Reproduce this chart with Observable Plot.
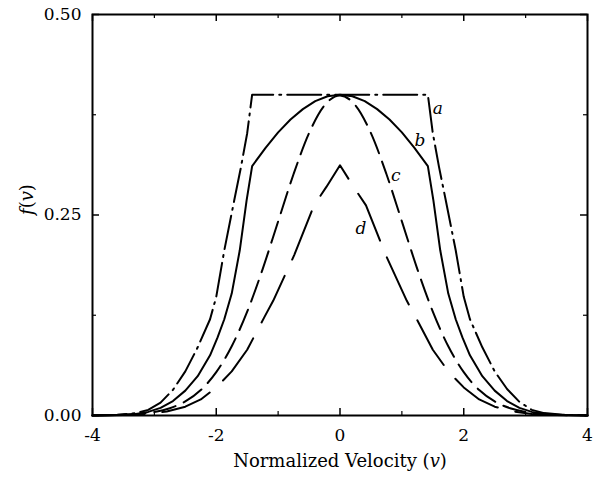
<!DOCTYPE html>
<html><head><meta charset="utf-8">
<script src="https://cdn.jsdelivr.net/npm/d3@7"></script>
<script src="https://cdn.jsdelivr.net/npm/@observablehq/plot@0.6"></script>
<style>
html,body{margin:0;padding:0;background:#fff}
#chart svg, #chart svg text { font-family: "DejaVu Serif", serif !important; }
</style>
</head><body><div id="chart"></div>
<script>
// curve a (dash-dot)
const aV = [-4.0,-3.6,-3.3,-3.1,-2.9,-2.7,-2.5,-2.3,-2.1,-2.0,-1.87,-1.71,-1.60,-1.50,-1.42,1.42,1.50,1.60,1.71,1.87,2.0,2.1,2.3,2.5,2.7,2.9,3.1,3.3,3.6,4.0];
const aF = [0.0002,0.001,0.003,0.007,0.016,0.032,0.055,0.085,0.12,0.148,0.206,0.268,0.31,0.352,0.400,0.400,0.352,0.31,0.268,0.206,0.148,0.12,0.085,0.055,0.033,0.017,0.007,0.003,0.001,0.0002];
// curve b (solid)
const bV = [-4.0,-3.6,-3.3,-3.1,-2.9,-2.7,-2.5,-2.3,-2.1,-1.98,-1.87,-1.75,-1.62,-1.51,-1.42,-1.2,-1.0,-0.8,-0.6,-0.4,-0.2,0,0.2,0.4,0.6,0.8,1.0,1.2,1.42,1.51,1.62,1.75,1.87,1.98,2.1,2.3,2.5,2.7,2.9,3.1,3.3,3.6,4.0];
const bF = [0.0001,0.0007,0.002,0.0045,0.0095,0.018,0.031,0.049,0.075,0.097,0.12,0.152,0.206,0.268,0.311,0.334,0.353,0.369,0.382,0.392,0.398,0.400,0.398,0.392,0.382,0.369,0.353,0.334,0.311,0.268,0.206,0.152,0.12,0.097,0.075,0.049,0.031,0.018,0.0095,0.0045,0.002,0.0007,0.0001];
// curve c (short dash)
const cV = [-4.0,-3.5,-3.25,-3.0,-2.75,-2.5,-2.25,-2.0,-1.75,-1.5,-1.25,-1.0,-0.75,-0.5,-0.25,0,0.25,0.5,0.75,1.0,1.25,1.5,1.75,2.0,2.25,2.5,2.75,3.0,3.25,3.5,4.0];
const cF = [0.0001,0.0009,0.002,0.0044,0.0091,0.0175,0.0317,0.054,0.0863,0.1295,0.1826,0.242,0.3011,0.3521,0.3867,0.3989,0.3867,0.3521,0.3011,0.242,0.1826,0.1295,0.0863,0.054,0.0317,0.0175,0.0091,0.0044,0.002,0.0009,0.0001];
// curve d (long dash)
const dV = [-4.0,-3.5,-3.1,-2.8,-2.5,-2.25,-2.0,-1.75,-1.5,-1.22,-1.08,-0.74,-0.42,-0.22,0,0.22,0.42,0.74,1.08,1.22,1.5,1.75,2.0,2.25,2.5,2.8,3.1,3.5,4.0];
const dF = [0.0001,0.0005,0.002,0.005,0.011,0.02,0.035,0.055,0.082,0.123,0.143,0.2,0.262,0.285,0.312,0.285,0.262,0.2,0.143,0.123,0.082,0.055,0.035,0.02,0.011,0.005,0.002,0.0005,0.0001];

const curveNames = ["a","b","c","d"];
const labelV = [1.58, 1.29, 0.90, 0.34];
const labelF = [0.383, 0.343, 0.299, 0.233];

const xTicks = [-4,-2,0,2,4];
const xMinor = [-3,-1,1,3];
const yTicks = [0, 0.25, 0.5];
const yMinor = [0.125, 0.375];
const xTitle = "Normalized Velocity (v)";
const yTitle = "f(v)";

const toRows = (V, F) => V.map((v, i) => ({v, f: F[i]}));
const labels = curveNames.map((n, i) => ({name: n, v: labelV[i], f: labelF[i]}));

const W = 602, H = 483, mL = 92, mR = 15, mT = 14, mB = 68;
const innerW = W - mL - mR, innerH = H - mT - mB;
const font = "DejaVu Serif";
const lineStyle = {x: "v", y: "f", stroke: "#000", strokeWidth: 2, strokeLinejoin: "round"};

const chart = Plot.plot({
  width: W, height: H,
  marginLeft: mL, marginRight: mR, marginTop: mT, marginBottom: mB,
  x: {domain: [-4, 4], axis: null},
  y: {domain: [0, 0.5], axis: null},
  style: {fontFamily: font, fontSize: "16px", color: "#000", background: "#fff"},
  marks: [
    Plot.lineY(toRows(aV, aF), {...lineStyle, strokeDasharray: "34,6,2,6", curve: "linear"}),
    Plot.lineY(toRows(bV, bF), {...lineStyle, curve: "linear"}),
    Plot.lineY(toRows(cV, cF), {...lineStyle, strokeDasharray: "22,9", curve: "monotone-x"}),
    Plot.lineY(toRows(dV, dF), {...lineStyle, strokeDasharray: "52,18", curve: "linear"}),
    Plot.text(labels, {x: "v", y: "f", text: "name", fontStyle: "italic", fontSize: 17, fill: "#000"}),
    // inward ticks
    Plot.ruleX(xTicks, {x: d => d, insetTop: innerH - 7, strokeWidth: 1.5}),
    Plot.ruleX(xTicks, {x: d => d, insetBottom: innerH - 7, strokeWidth: 1.5}),
    Plot.ruleX(xMinor, {x: d => d, insetTop: innerH - 4, strokeWidth: 1.2}),
    Plot.ruleX(xMinor, {x: d => d, insetBottom: innerH - 4, strokeWidth: 1.2}),
    Plot.ruleY(yTicks, {y: d => d, insetRight: innerW - 7, strokeWidth: 1.5}),
    Plot.ruleY(yTicks, {y: d => d, insetLeft: innerW - 7, strokeWidth: 1.5}),
    Plot.ruleY(yMinor, {y: d => d, insetRight: innerW - 4, strokeWidth: 1.2}),
    Plot.ruleY(yMinor, {y: d => d, insetLeft: innerW - 4, strokeWidth: 1.2}),
    Plot.axisX(xTicks, {tickSize: 0, tickPadding: 13, fontSize: 17, tickFormat: d => (d < 0 ? "-" + Math.abs(d) : String(d)), label: null}),
    Plot.axisY(yTicks, {tickSize: 0, tickPadding: 11, fontSize: 17, tickFormat: d3.format(".2f"), label: null}),
    Plot.text([xTitle], {frameAnchor: "bottom", dy: 51, fontSize: 18, fill: "#000"}),
    Plot.text([yTitle], {frameAnchor: "left", dx: -65, rotate: -90, fontSize: 18, fill: "#000"}),
    Plot.frame({stroke: "#000", strokeWidth: 2})
  ]
});
document.getElementById("chart").appendChild(chart);

// italic variables inside the axis titles
const svg = d3.select(chart);
svg.selectAll("text").filter(function() { return this.textContent === xTitle; }).each(function() {
  const t = d3.select(this); t.text(null);
  t.append("tspan").text("Normalized Velocity (");
  t.append("tspan").attr("font-style", "italic").text("v");
  t.append("tspan").text(")");
});
svg.selectAll("text").filter(function() { return this.textContent === yTitle; }).each(function() {
  const t = d3.select(this); t.text(null);
  t.append("tspan").attr("font-style", "italic").text("f");
  t.append("tspan").text("(");
  t.append("tspan").attr("font-style", "italic").text("v");
  t.append("tspan").text(")");
});
</script>
</body></html>
